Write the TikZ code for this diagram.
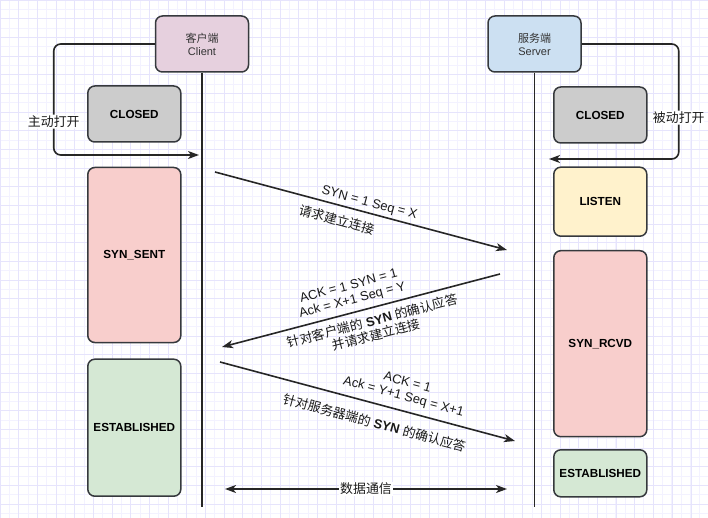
\documentclass[tikz,border=0pt]{standalone}
\usepackage{fontspec}
\setmainfont{Liberation Sans}
\newfontfamily\cjk{Noto Sans CJK SC}
\usetikzlibrary{arrows.meta}

\definecolor{clientpink}{RGB}{230,208,222}
\definecolor{serverblue}{RGB}{204,224,242}
\definecolor{closedgray}{RGB}{204,204,204}
\definecolor{synpink}{RGB}{248,206,204}
\definecolor{estgreen}{RGB}{213,232,212}
\definecolor{listenyellow}{RGB}{255,242,204}
\definecolor{edgegray}{RGB}{54,57,61}
\definecolor{gridminor}{RGB}{243,242,255}
\definecolor{gridmajor}{RGB}{230,228,252}

\tikzset{
  role/.style={draw=edgegray, line width=1.5pt, rounded corners=7pt, minimum width=93pt,
    minimum height=56pt, align=center, text=black!80, font=\fontsize{11}{13}\selectfont},
  state/.style={draw=edgegray, line width=1.5pt, rounded corners=7pt, minimum width=93pt,
    font=\fontsize{11.7}{13}\selectfont\bfseries},
  life/.style={black!85, line width=1.6pt},
  openline/.style={black!85, line width=1.6pt, rounded corners=7pt, ->},
  msg/.style={black!85, line width=1.6pt},
  txt/.style={inner sep=1pt, align=center, text=black!90, font=\fontsize{12.9}{14.5}\selectfont},
  >={Stealth[length=11pt,width=8pt,inset=3pt]}
}

\begin{document}
\begin{tikzpicture}[x=1pt,y=-1pt]
\useasboundingbox (0,0) rectangle (708,518);
% grid in the back
\begin{scope}
\clip (0,0) rectangle (708,518);
\draw[gridminor, line width=0.6pt, step=9.33pt] (-10,528) grid (718,-10);
\draw[gridmajor, line width=0.6pt, step=18.67pt] (-10,528) grid (718,-10);
\end{scope}

% the two sides
\node[role, fill=clientpink] (client) at (202,44) {{\cjk 客户端}\\Client};
\node[role, fill=serverblue] (server) at (534.5,44) {{\cjk 服务端}\\Server};

\coordinate (cend) at (202,507);
\coordinate (send) at (534.5,507);
\draw[life] (client.south) -- (cend);
\draw[life] (server.south) -- (send);

% open
\coordinate (copen) at (199,155);
\coordinate (sopen) at (549,159);
\draw[openline] (client.west) -- ++(-101,0) |- node[txt, pos=0.35, fill=white] {\cjk 主动打开} (copen);
\draw[openline] (server.east) -- ++(97,0) |- node[txt, pos=0.32, fill=white] {\cjk 被动打开} (sopen);

% states of the client
\node[state, fill=closedgray, minimum height=56pt] (cclosed) at (134.3,114) {CLOSED};
\node[state, fill=synpink, minimum height=175pt] (synsent) at (134.3,255) {SYN\_SENT};
\node[state, fill=estgreen, minimum height=137pt] (cest) at (134.3,427.7) {ESTABLISHED};

% states of the server
\node[state, fill=closedgray, minimum height=56pt] (sclosed) at (600.3,115) {CLOSED};
\node[state, fill=listenyellow, minimum height=69pt] (listen) at (600.3,201.7) {LISTEN};
\node[state, fill=synpink, minimum height=186pt] (synrcvd) at (600.3,343.7) {SYN\_RCVD};
\node[state, fill=estgreen, minimum height=47pt] (sest) at (600.3,473.3) {ESTABLISHED};

% handshake
\coordinate (c1) at (215,172);
\coordinate (s1) at (507,250);
\coordinate (c2) at (222,347);
\coordinate (s2) at (500,274);
\coordinate (c3) at (220,362);
\coordinate (s3) at (515,441);
\coordinate (d1) at (225,489);
\coordinate (d2) at (507,489);

\draw[msg, ->] (c1) -- node[txt, pos=0.52, above=2pt, sloped] {SYN = 1 Seq = X}
  node[txt, pos=0.43, below=7pt, sloped] {\cjk 请求建立连接} (s1);
\draw[msg, <-] (c2) -- node[txt, pos=0.48, above=4pt, sloped] {ACK = 1 SYN = 1\\Ack = X+1 Seq = Y}
  node[txt, pos=0.53, below=5pt, sloped] {{\cjk 针对客户端的} \textbf{SYN} {\cjk 的确认应答}\\{\cjk 并请求建立连接}} (s2);
\draw[msg, ->] (c3) -- node[txt, pos=0.61, above=6pt, sloped] {ACK = 1\\Ack = Y+1 Seq = X+1}
  node[txt, pos=0.54, below=11pt, sloped] {{\cjk 针对服务器端的} \textbf{SYN} {\cjk 的确认应答}} (s3);
\draw[msg, <->] (d1) -- node[txt, fill=white] {\cjk 数据通信} (d2);
\end{tikzpicture}
\end{document}
